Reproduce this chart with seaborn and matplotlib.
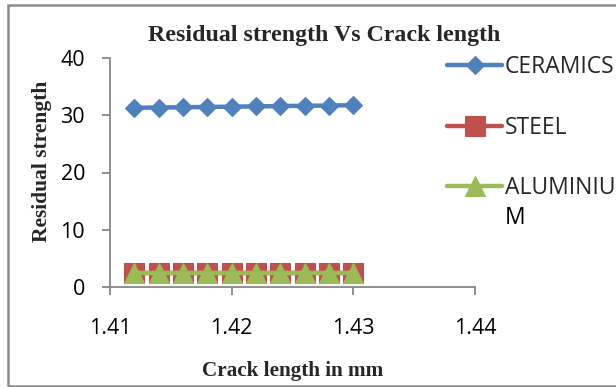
import matplotlib
matplotlib.use("Agg")
import matplotlib.pyplot as plt
import seaborn as sns
import pandas as pd
from matplotlib.patches import Rectangle

crack_length = [1.412, 1.414, 1.416, 1.418, 1.420, 1.422, 1.424, 1.426, 1.428, 1.430]
ceramics = [31.3, 31.35, 31.4, 31.45, 31.5, 31.55, 31.6, 31.65, 31.7, 31.75]
steel = [2.5, 2.5, 2.5, 2.5, 2.5, 2.5, 2.5, 2.5, 2.5, 2.5]
aluminium = [2.5, 2.5, 2.5, 2.5, 2.5, 2.5, 2.5, 2.5, 2.5, 2.5]
series_names = ["CERAMICS", "STEEL", "ALUMINIUM"]
x_ticks = [1.41, 1.42, 1.43, 1.44]
y_ticks = [0, 10, 20, 30, 40]

sns.set_theme(style="white")
plt.rcParams["font.family"] = ["Open Sans", "DejaVu Sans"]

fig = plt.figure(figsize=(6.16, 3.87), dpi=100)
ax = fig.add_axes([110/616, 1-287/387, (475-110)/616, (287-58)/387])

colors = ["#4F81BD", "#C0504D", "#9BBB59"]
markers = ["D", "s", "^"]
msizes = [9, 14.5, 14]
values = [ceramics, steel, aluminium]

for name, vals, c, m, ms in zip(series_names, values, colors, markers, msizes):
    df = pd.DataFrame({"x": crack_length, "y": vals})
    sns.lineplot(data=df, x="x", y="y", ax=ax, color=c, marker=m, markersize=ms,
                 linewidth=3.2, markeredgecolor=c, markeredgewidth=0.8, label=name)

ax.set_xlim(1.41, 1.44)
ax.set_ylim(0, 40)
ax.set_xticks(x_ticks)
ax.set_yticks(y_ticks)
ax.set_xticklabels([f"{t:.2f}" for t in x_ticks])
ax.set_yticklabels([str(t) for t in y_ticks])

spine_c = "#868686"
for s in ["top", "right"]:
    ax.spines[s].set_visible(False)
for s in ["left", "bottom"]:
    ax.spines[s].set_color(spine_c)
    ax.spines[s].set_linewidth(1.3)
ax.tick_params(axis="both", which="major", direction="out", length=6, width=1.3,
               color=spine_c, labelsize=15.5, labelcolor="black")
ax.tick_params(axis="x", pad=16)
ax.tick_params(axis="y", pad=12)
ax.xaxis.set_ticks_position("bottom")
ax.yaxis.set_ticks_position("left")

ax.set_xlabel("")
ax.set_ylabel("")
serif = ["Liberation Serif", "DejaVu Serif"]
fig.text(324/616, 1-36/387, "Residual strength Vs Crack length", ha="center", va="center",
         fontsize=17.2, fontweight="bold", family=serif)
fig.text(293/616, 1-371/387, "Crack length in mm", ha="center", va="center",
         fontsize=15.2, fontweight="bold", family=serif)
fig.text(42/616, 1-161/387, "Residual strength", ha="center", va="center", rotation=90,
         fontsize=15.5, fontweight="bold", family=serif)

handles, labels = ax.get_legend_handles_labels()
# the reference wraps the last legend label; show its first part in the legend
shown = [lab if len(lab) <= 8 else lab[:8] for lab in labels]
leg_fs = 16.5
leg = ax.legend(handles, shown, loc="upper left", bbox_to_anchor=(447/616, 1-55/387),
                bbox_transform=fig.transFigure, frameon=False, fontsize=leg_fs,
                handlelength=2.4, handletextpad=0.13, labelspacing=1.6, borderpad=0,
                borderaxespad=0)

fig.canvas.draw()
last = leg.get_texts()[-1]
bb = last.get_window_extent().transformed(fig.transFigure.inverted())
fig.text(bb.x0, (bb.y0 + bb.y1) / 2 - 30/387, labels[-1][8:], ha="left", va="center",
         fontsize=leg_fs, color="black")

fig.patches.append(Rectangle((8/616, 1-386/387), 1.0, (386-5)/387, transform=fig.transFigure,
                             fill=False, edgecolor="#8C8C8C", linewidth=1.8, figure=fig))

fig.savefig("out.png", dpi=100)
